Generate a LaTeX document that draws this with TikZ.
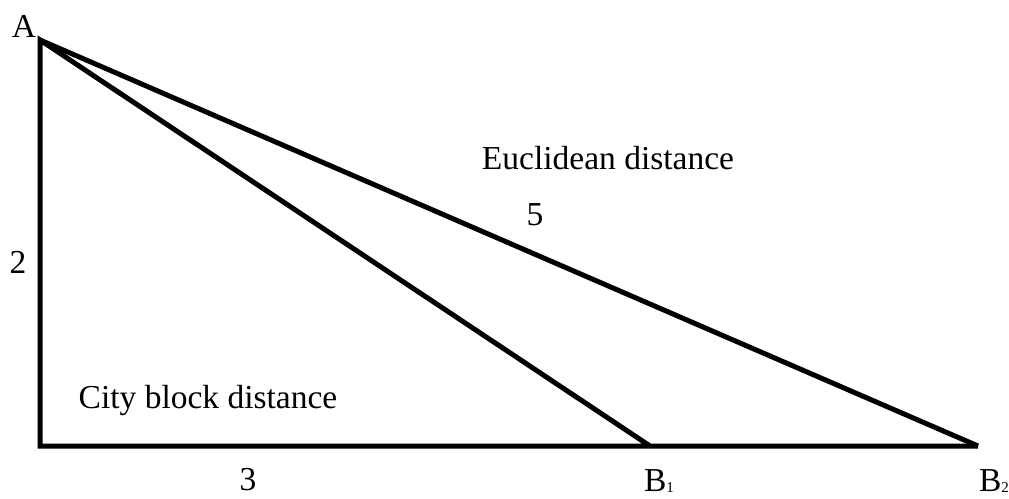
\documentclass[tikz,border=0pt]{standalone}
\usepackage{fontspec}
\setmainfont{Liberation Serif}
\newcommand{\subsc}[1]{\raisebox{-1pt}{\fontsize{15}{15}\selectfont #1}}
\begin{document}
\begin{tikzpicture}[x=1pt,y=-1pt,
  edge/.style={line width=5pt,line join=miter,line cap=butt},
  lbl/.style={font=\fontsize{33.5}{38}\selectfont,inner sep=0pt}]
\useasboundingbox (0,0) rectangle (1009,498);
\coordinate (A) at (40,40);
\coordinate (C) at (40,446);
\coordinate (B1) at (650,446);
\coordinate (B2) at (978,446);
\draw[edge] (B1) -- (A) -- (C) -- (B2) -- cycle;
\draw[edge] (A) -- (B2);
\node[lbl] (la) at (24,26) {A};
\node[lbl] (l2) at (18,262) {2};
\node[lbl] (l3) at (248,480) {3};
\node[lbl] (lb1) at (659,481) {B\subsc{1}};
\node[lbl] (lb2) at (994,481) {B\subsc{2}};
\node[lbl] (eu) at (608,158) {Euclidean distance};
\node[lbl] (l5) at (535,215) {5};
\node[lbl] (cb) at (208,400) {City block distance};
\end{tikzpicture}
\end{document}
